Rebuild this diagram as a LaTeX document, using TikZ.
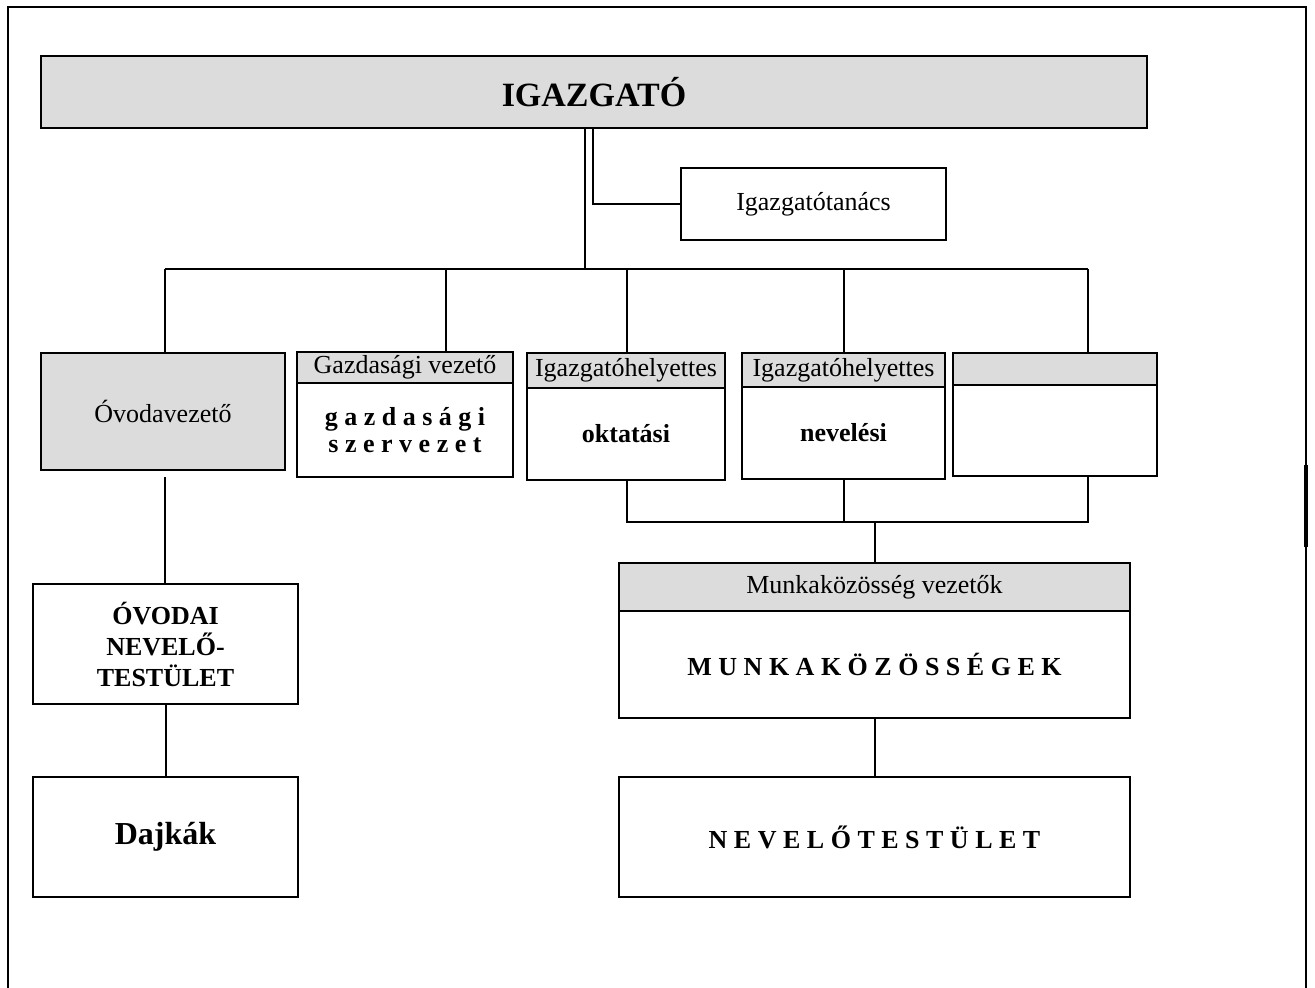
\documentclass[tikz,border=0pt]{standalone}
\usepackage{fontspec}
\setmainfont{Liberation Serif}
\definecolor{hdrgray}{RGB}{220,220,220}
\tikzset{
  orgbox/.style={draw=black, line width=2pt, rectangle, inner sep=0pt, align=center, font=\fontsize{26}{31}\selectfont},
  grayfill/.style={fill=hdrgray},
  conn/.style={draw=black, line width=2pt},
  bt/.style={font=\fontsize{26}{28}\selectfont\bfseries}
}
\begin{document}
\begin{tikzpicture}[x=1pt,y=-1pt]
\useasboundingbox (0,0) rectangle (1315,988);
% outer frame
\draw[line width=2pt] (8,988) -- (8,7) -- (1306,7) -- (1306,988);
\draw[line width=4pt] (1306,465) -- (1306,547);

% nodes
\node[orgbox, grayfill, minimum width=1106pt, minimum height=72pt] (ig) at (594,92) {\fontsize{34}{40}\selectfont\bfseries IGAZGATÓ};
\node[orgbox, minimum width=265pt, minimum height=72pt] (igt) at (813.5,204) {Igazgatótanács};

\node[orgbox, grayfill, minimum width=244pt, minimum height=117pt] (ov) at (163,411.5) {Óvodavezető};

\node[orgbox, grayfill, minimum width=216pt, minimum height=31pt] (gazh) at (405,367.5) {Gazdasági vezető};
\node[orgbox, bt, minimum width=216pt, minimum height=94pt] (gazb) at (405,430) {g a z d a s á g i\\[-1pt]s z e r v e z e t};

\node[orgbox, grayfill, minimum width=198pt, minimum height=35pt] (okth) at (626,370.5) {Igazgatóhelyettes};
\node[orgbox, bt, minimum width=198pt, minimum height=92pt] (oktb) at (626,434) {oktatási};

\node[orgbox, grayfill, minimum width=203pt, minimum height=34pt] (nevh) at (843.5,370) {Igazgatóhelyettes};
\node[orgbox, bt, minimum width=203pt, minimum height=92pt] (nevb) at (843.5,433) {nevelési};

\node[orgbox, grayfill, minimum width=204pt, minimum height=32pt] (ursh) at (1055,369) {};
\node[orgbox, minimum width=204pt, minimum height=91pt] (ursb) at (1055,430.5) {};

\node[orgbox, grayfill, minimum width=511pt, minimum height=48pt] (mkh) at (874.5,587) {Munkaközösség vezetők};
\node[orgbox, bt, minimum width=511pt, minimum height=107pt] (mkb) at (874.5,664.5) {M U N K A K Ö Z Ö S S É G E K};

\node[orgbox, minimum width=265pt, minimum height=120pt, font=\fontsize{26}{31}\selectfont\bfseries] (ovt) at (165.5,644) {ÓVODAI\\NEVELŐ-\\TESTÜLET};
\node[orgbox, minimum width=265pt, minimum height=120pt] (dj) at (165.5,837) {\fontsize{32}{36}\selectfont\bfseries Dajkák};
\node[orgbox, bt, minimum width=511pt, minimum height=120pt] (nt) at (874.5,837) {N E V E L Ő T E S T Ü L E T};

% coordinates for connectors
\coordinate (busJ) at (585,269);
\coordinate (itc) at (593,204);
\coordinate (d1) at (165,269);
\coordinate (d2) at (446,269);
\coordinate (d3) at (627,269);
\coordinate (d4) at (844,269);
\coordinate (d5) at (1088,269);
\coordinate (lowJ) at (875,522);

% connectors
\draw[conn] (ig.south -| busJ) -- (busJ);
\draw[conn] (ig.south -| itc) |- (igt.west);
\draw[conn] (d1) -- (d5);
\draw[conn] (d1) -- (d1 |- ov.north);
\draw[conn] (d2) -- (d2 |- gazh.north);
\draw[conn] (d3) -- (d3 |- okth.north);
\draw[conn] (d4) -- (d4 |- nevh.north);
\draw[conn] (d5) -- (d5 |- ursh.north);

\draw[conn] (d3 |- oktb.south) |- (lowJ);
\draw[conn] (d5 |- ursb.south) |- (lowJ);
\draw[conn] (d4 |- nevb.south) -- (d4 |- lowJ);
\draw[conn] (lowJ) -- (lowJ |- mkh.north);
\draw[conn] (mkb.south) -- (nt.north);

\draw[conn] ([yshift=-6pt]d1 |- ov.south) -- (d1 |- ovt.north);
\draw[conn] (ovt.south) -- (dj.north);
\end{tikzpicture}
\end{document}
